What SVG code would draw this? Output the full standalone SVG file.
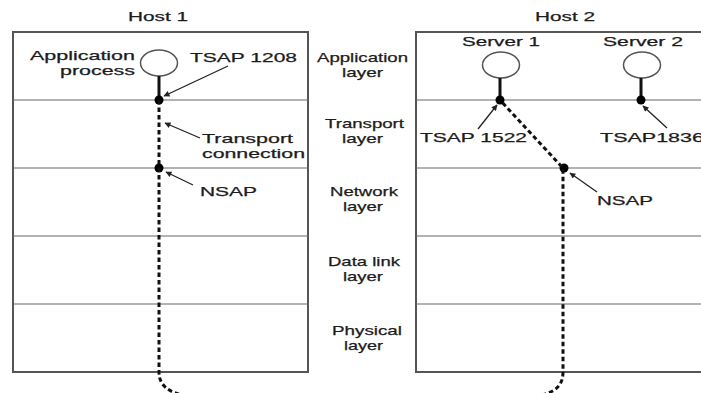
<svg xmlns="http://www.w3.org/2000/svg" width="701" height="393" viewBox="0 0 701 393">
<style>
text{font-family:"Liberation Sans",Arial,sans-serif;font-size:13px;fill:#1c1c1c;stroke:#1c1c1c;stroke-width:0.25}
.box{fill:none;stroke:#555;stroke-width:2}
.div{stroke:#666;stroke-width:1.2}
.proc{fill:#fff;stroke:#555;stroke-width:1.5}
.stem{stroke:#111;stroke-width:3}
.dot{fill:#000}
.conn{fill:none;stroke:#111;stroke-width:3;stroke-dasharray:4.5 3}
.ptr{stroke:#222;stroke-width:1.3;marker-end:url(#ah)}
</style>
<defs>
<marker id="ah" viewBox="0 0 10 10" refX="9" refY="5" markerWidth="7" markerHeight="6" orient="auto" markerUnits="userSpaceOnUse">
<path d="M0,0 L10,5 L0,10 z" fill="#222"/>
</marker>
</defs>
<rect width="701" height="393" fill="#fff"/>

<g id="host1">
<text x="128" y="21" textLength="60" lengthAdjust="spacingAndGlyphs">Host 1</text>
<rect class="box" x="13" y="32" width="295" height="340"/>
<line class="div" x1="13" y1="100" x2="308" y2="100"/>
<line class="div" x1="13" y1="168" x2="308" y2="168"/>
<line class="div" x1="13" y1="236" x2="308" y2="236"/>
<line class="div" x1="13" y1="304" x2="308" y2="304"/>
</g>

<g id="host2">
<text x="535" y="21" textLength="60" lengthAdjust="spacingAndGlyphs">Host 2</text>
<path class="box" d="M705,32 H416 V372 H705"/>
<line class="div" x1="416" y1="100" x2="705" y2="100"/>
<line class="div" x1="416" y1="168" x2="705" y2="168"/>
<line class="div" x1="416" y1="236" x2="705" y2="236"/>
<line class="div" x1="416" y1="304" x2="705" y2="304"/>
</g>

<g id="layer-labels">
<text x="317" y="62" textLength="91" lengthAdjust="spacingAndGlyphs">Application</text>
<text x="342" y="77" textLength="41" lengthAdjust="spacingAndGlyphs">layer</text>
<text x="325" y="128" textLength="79" lengthAdjust="spacingAndGlyphs">Transport</text>
<text x="342" y="143" textLength="41" lengthAdjust="spacingAndGlyphs">layer</text>
<text x="330" y="196" textLength="68" lengthAdjust="spacingAndGlyphs">Network</text>
<text x="343" y="211" textLength="40" lengthAdjust="spacingAndGlyphs">layer</text>
<text x="328" y="266" textLength="72" lengthAdjust="spacingAndGlyphs">Data link</text>
<text x="343" y="281" textLength="40" lengthAdjust="spacingAndGlyphs">layer</text>
<text x="332" y="335" textLength="70" lengthAdjust="spacingAndGlyphs">Physical</text>
<text x="344" y="350" textLength="39" lengthAdjust="spacingAndGlyphs">layer</text>
</g>

<g id="app-process">
<text x="135" y="60" text-anchor="end" textLength="105" lengthAdjust="spacingAndGlyphs">Application</text>
<text x="135" y="75" text-anchor="end" textLength="75" lengthAdjust="spacingAndGlyphs">process</text>
<ellipse class="proc" cx="159" cy="63" rx="18.5" ry="13"/>
<line class="stem" x1="159" y1="76" x2="159" y2="100"/>
<circle class="dot" cx="159" cy="100" r="4.5"/>
<text x="190" y="62" textLength="107" lengthAdjust="spacingAndGlyphs">TSAP 1208</text>
<circle class="dot" cx="159" cy="168" r="4.5"/>
<text x="202" y="143" textLength="91" lengthAdjust="spacingAndGlyphs">Transport</text>
<text x="202" y="158" textLength="103" lengthAdjust="spacingAndGlyphs">connection</text>
<text x="200" y="196" textLength="57" lengthAdjust="spacingAndGlyphs">NSAP</text>
</g>

<g id="server1">
<text x="462" y="46" textLength="78" lengthAdjust="spacingAndGlyphs">Server 1</text>
<ellipse class="proc" cx="501" cy="65" rx="18.5" ry="13"/>
<line class="stem" x1="500" y1="78" x2="500" y2="100"/>
<circle class="dot" cx="500" cy="100" r="4.5"/>
<text x="420" y="142" textLength="107" lengthAdjust="spacingAndGlyphs">TSAP 1522</text>
<circle class="dot" cx="564" cy="168" r="4.5"/>
<text x="597" y="205" textLength="56" lengthAdjust="spacingAndGlyphs">NSAP</text>
</g>

<g id="server2">
<text x="603" y="46" textLength="80" lengthAdjust="spacingAndGlyphs">Server 2</text>
<ellipse class="proc" cx="642" cy="65" rx="18.5" ry="13"/>
<line class="stem" x1="641" y1="78" x2="641" y2="100"/>
<circle class="dot" cx="641" cy="100" r="4.5"/>
<text x="600" y="142" textLength="104" lengthAdjust="spacingAndGlyphs">TSAP1836</text>
</g>

<g id="connectors">
<path class="conn" d="M159,100 V372 C159,385 168,393 188,396 H536 C556,393 563,385 563,372 V168 L500,100"/>
<line class="ptr" x1="228" y1="66" x2="164" y2="96"/>
<line class="ptr" x1="200" y1="138" x2="165" y2="123"/>
<line class="ptr" x1="193" y1="185" x2="166" y2="172"/>
<line class="ptr" x1="478" y1="129" x2="497" y2="105"/>
<line class="ptr" x1="667" y1="128" x2="643" y2="106"/>
<line class="ptr" x1="597" y1="192" x2="570" y2="173"/>
</g>
</svg>
